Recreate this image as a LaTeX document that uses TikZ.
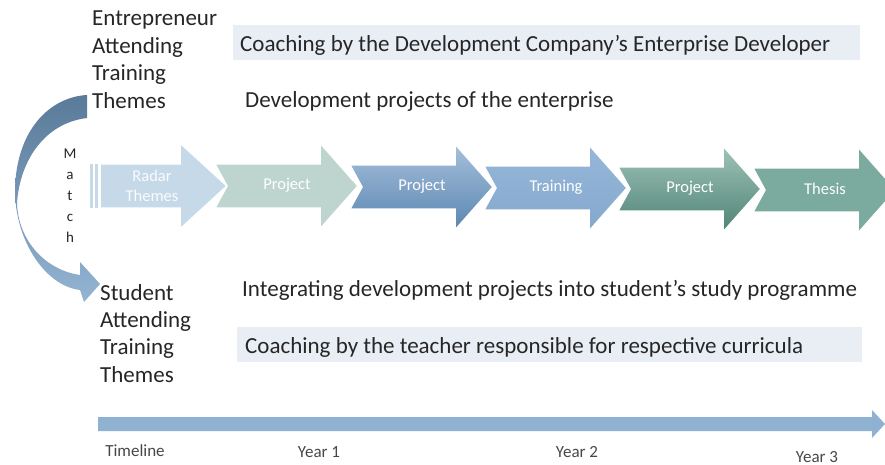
\documentclass[tikz,border=0pt]{standalone}
\usepackage{fontspec}
\setmainfont{Carlito}
\usepackage{tikz}
\usetikzlibrary{positioning, calc}
\definecolor{MainText}{HTML}{262626}
\definecolor{BandFill}{HTML}{E9EEF5}
\definecolor{RadarBlue}{HTML}{C6D9E9}
\definecolor{ProjGreenA}{HTML}{BDD5CE}
\definecolor{ProjBlueTop}{HTML}{A7C0DC}
\definecolor{ProjBlueBot}{HTML}{5A86B1}
\definecolor{TrainTop}{HTML}{96B7D9}
\definecolor{TrainBot}{HTML}{84A8CD}
\definecolor{ProjGreenTop}{HTML}{A0C3B9}
\definecolor{ProjGreenBot}{HTML}{4E8375}
\definecolor{ThesisGreen}{HTML}{7BAA9E}
\definecolor{TimeBlue}{HTML}{8FB1D2}
\definecolor{MatchTop}{HTML}{5A7A9A}
\definecolor{MatchBot}{HTML}{93B4D3}
\tikzset{
  % testi
  big text/.style={font=\fontsize{23}{27.4}\selectfont,text=MainText,inner sep=0,align=left},
  band text/.style={big text,anchor=base west},
  year text/.style={font=\fontsize{17}{20}\selectfont,text=MainText!85,inner sep=0},
  % frecce
  chevron/.style={draw=white,line width=1.5pt,line join=miter},
  chevron text/.style={font=\fontsize{16.5}{19.5}\selectfont,text=white,align=center,inner sep=0},
  band/.style={fill=BandFill,draw=none}
}
\begin{document}
\begin{tikzpicture}[x=1pt,y=-1pt]
    \useasboundingbox (0,0) rectangle (885,465);
    \clip (0,0) rectangle (885,465);
    % fasce di coaching
    \path[band] (233,25) rectangle (860,60);
    \path[band] (237,327) rectangle (862,362);
    \node[band text] (coachent) at (240,52) {Coaching by the Development Company’s Enterprise Developer};
    \node[band text] (devproj) at (245,108) {Development projects of the enterprise};
    \node[band text] (integr) at (242,296) {Integrating development projects into student’s study programme};
    \node[band text] (coachstu) at (245,353) {Coaching by the teacher responsible for respective curricula};
    % etichette a sinistra
    \node[big text,anchor=north west] (entre) at (92,11) {Entrepreneur\\Attending\\Training\\Themes};
    \node[big text,anchor=north west] (student) at (100,284) {Student\\Attending\\Training\\Themes};
    % freccia curva Match
    \path[top color=MatchTop,bottom color=MatchBot]
      (87,95) .. controls (50,97) and (16,130) .. (15,190)
      .. controls (15,240) and (45,286) .. (80,290) -- (84,302) -- (100,284) -- (80,262) -- (80,275)
      .. controls (45,270) and (18,240) .. (17,203)
      .. controls (20,160) and (45,123) .. (87,118) -- cycle;
    \node[font=\fontsize{15}{21}\selectfont,text=MainText,align=center,inner sep=0] (match) at (70,196) {M\\a\\t\\c\\h};
    % frecce del percorso
    \fill[RadarBlue] (90,164) rectangle (93,208);
    \fill[RadarBlue] (95,164) rectangle (98,208);
    \path[chevron,fill=RadarBlue] (100,164) -- (180,164) -- (180,143) -- (227,186) -- (180,229) -- (180,208) -- (100,208) -- cycle;
    \node[chevron text,text=white!90!RadarBlue] (radar) at (152,186) {Radar\\Themes};
    \foreach \lx/\cy/\ctop/\cbot/\lbl/\nm in {215/186/ProjGreenA/ProjGreenA/Project/projA,
        350/187/ProjBlueTop/ProjBlueBot/Project/projB,
        484/188/TrainTop/TrainBot/Training/train,
        618/189/ProjGreenTop/ProjGreenBot/Project/projC,
        753/190/ThesisGreen/ThesisGreen/Thesis/thesis}
    {
      \path[chevron,top color=\ctop,bottom color=\cbot] (\lx,\cy-22) -- ++(105,0) -- ++(0,-21) -- ++(38,43)
        -- ++(-38,43) -- ++(0,-21) -- ++(-105,0) -- ++(12,-22) -- cycle;
      \node[chevron text] (\nm) at (\lx+72,\cy-1) {\lbl};
    }
    % linea del tempo
    \fill[TimeBlue] (98,417) -- (872,417) -- (872,410) -- (885,424) -- (872,438) -- (872,431) -- (98,431) -- cycle;
    \node[year text] (tl) at (135,451) {Timeline};
    \node[year text] (y1) at (319,452) {Year 1};
    \node[year text] (y2) at (577,452) {Year 2};
    \node[year text] (y3) at (817,457) {Year 3};
  \end{tikzpicture}
\end{document}
